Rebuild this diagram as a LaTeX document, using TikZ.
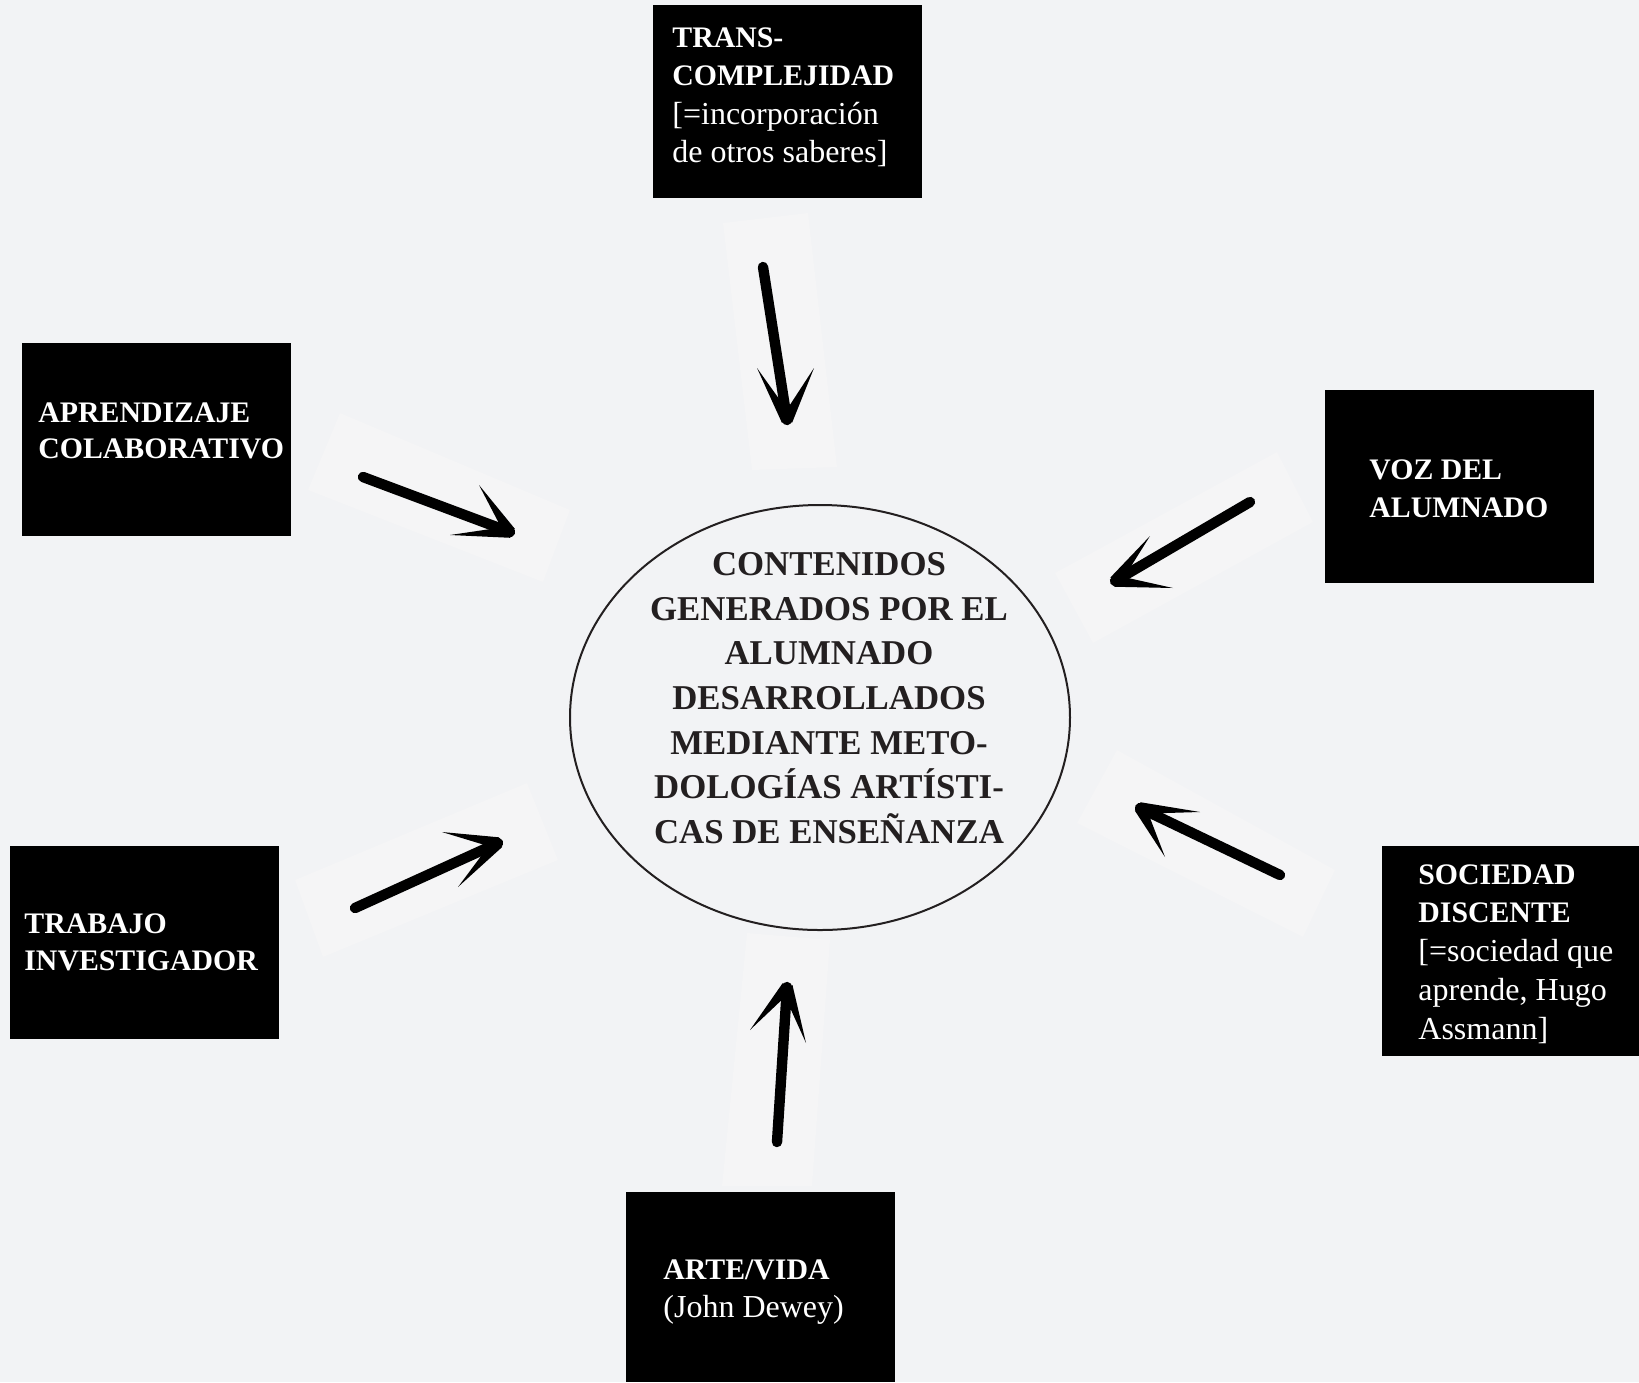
\documentclass[tikz,border=0pt]{standalone}
\usepackage{fontspec}
\setmainfont{Liberation Serif}
\usetikzlibrary{calc,shapes.geometric}
\definecolor{bg}{HTML}{F2F3F5}
\definecolor{patch}{HTML}{F5F5F6}
\definecolor{ink}{HTML}{231F20}
\newcommand{\rgl}{\fontsize{16}{19}\selectfont\mdseries}
\tikzset{
  blackbox/.style={fill=black, draw=none},
  boxtext/.style={text=white, anchor=north west, inner sep=0pt, align=left,
    font=\fontsize{14.9}{19}\selectfont\bfseries},
  shaft/.style={line width=5.2pt, line cap=round, black},
  patchbox/.style={fill=patch, draw=none},
}
\newcommand{\barb}[2]{%
  \fill[black] ($(#1)!2.9pt!90:(#2)$) -- (#2) -- ($(#1)!2.9pt!-90:(#2)$) -- cycle;}
\begin{document}
\begin{tikzpicture}[x=0.5pt,y=-0.5pt]
\path[fill=bg] (0,0) rectangle (1639,1382);
\useasboundingbox (0,0) rectangle (1639,1382);

% light patches under arrows
\fill[patchbox] (723,223) -- (808,213) -- (837,467) -- (752,470) -- cycle;
\fill[patchbox] (340,413) -- (570,510) -- (543,582) -- (308,490) -- cycle;
\fill[patchbox] (1277,452) -- (1313,522) -- (1093,643) -- (1055,573) -- cycle;
\fill[patchbox] (527,783) -- (558,860) -- (323,957) -- (295,880) -- cycle;
\fill[patchbox] (1117,750) -- (1335,870) -- (1303,937) -- (1077,823) -- cycle;
\fill[patchbox] (747,933) -- (830,940) -- (812,1186) -- (722,1186) -- cycle;

% boxes
\fill[blackbox] (653,5) rectangle (922,198);
\node[boxtext, font=\fontsize{14.9}{19.3}\selectfont\bfseries] (trans) at (672,27)
  {TRANS-\\COMPLEJIDAD\\{\rgl [=incorporación}\\{\rgl de otros saberes]}};

\fill[blackbox] (22,343) rectangle (291,536);
\node[boxtext, font=\fontsize{14.9}{18}\selectfont\bfseries] (apren) at (38,402)
  {APRENDIZAJE\\COLABORATIVO};

\fill[blackbox] (1325,390) rectangle (1594,583);
\node[boxtext] (voz) at (1369,459) {VOZ DEL\\ALUMNADO};

\fill[blackbox] (1382,846) rectangle (1639,1056);
\node[boxtext, font=\fontsize{14.9}{19.4}\selectfont\bfseries] (soc) at (1418,864)
  {SOCIEDAD\\DISCENTE\\{\rgl [=sociedad que}\\{\rgl aprende, Hugo}\\{\rgl Assmann]}};

\fill[blackbox] (10,846) rectangle (279,1039);
\node[boxtext, font=\fontsize{14.9}{18.5}\selectfont\bfseries] (trab) at (24,913)
  {TRABAJO\\INVESTIGADOR};

\fill[blackbox] (626,1192) rectangle (895,1382);
\node[boxtext] (arte) at (663,1259) {ARTE/VIDA\\{\rgl (John Dewey)}};

% central ellipse
\node[ellipse, draw=ink, line width=1pt, minimum width=250pt, minimum height=212.5pt,
  inner sep=0pt] (centre) at (820,717.5) {};
\node[anchor=north, inner sep=0pt, align=center, text=ink,
  font=\fontsize{17.4}{22.35}\selectfont\bfseries] (ctext) at (829,552)
  {CONTENIDOS\\GENERADOS POR EL\\ALUMNADO\\DESARROLLADOS\\MEDIANTE METO-\\DOLOGÍAS ARTÍSTI-\\CAS DE ENSEÑANZA};

% arrows
\coordinate (t1) at (763,267); \coordinate (h1) at (787,420);
\coordinate (l1) at (757,368); \coordinate (r1) at (814,368);
\draw[shaft] (t1) -- (h1); \barb{h1}{l1} \barb{h1}{r1}

\coordinate (t2) at (363,477); \coordinate (h2) at (510,532);
\coordinate (l2) at (479,485); \coordinate (r2) at (450,535);
\draw[shaft] (t2) -- (h2); \barb{h2}{l2} \barb{h2}{r2}

\coordinate (t3) at (1250,502); \coordinate (h3) at (1115,581);
\coordinate (l3) at (1150,536); \coordinate (r3) at (1173,588);
\draw[shaft] (t3) -- (h3); \barb{h3}{l3} \barb{h3}{r3}

\coordinate (t4) at (355,908); \coordinate (h4) at (498,843);
\coordinate (l4) at (442,832); \coordinate (r4) at (458,887);
\draw[shaft] (t4) -- (h4); \barb{h4}{l4} \barb{h4}{r4}

\coordinate (t5) at (1280,875); \coordinate (h5) at (1140,808);
\coordinate (l5) at (1200,812); \coordinate (r5) at (1165,857);
\draw[shaft] (t5) -- (h5); \barb{h5}{l5} \barb{h5}{r5}

\coordinate (t6) at (777,1142); \coordinate (h6) at (787,987);
\coordinate (l6) at (750,1030); \coordinate (r6) at (806,1043);
\draw[shaft] (t6) -- (h6); \barb{h6}{l6} \barb{h6}{r6}
\end{tikzpicture}
\end{document}
